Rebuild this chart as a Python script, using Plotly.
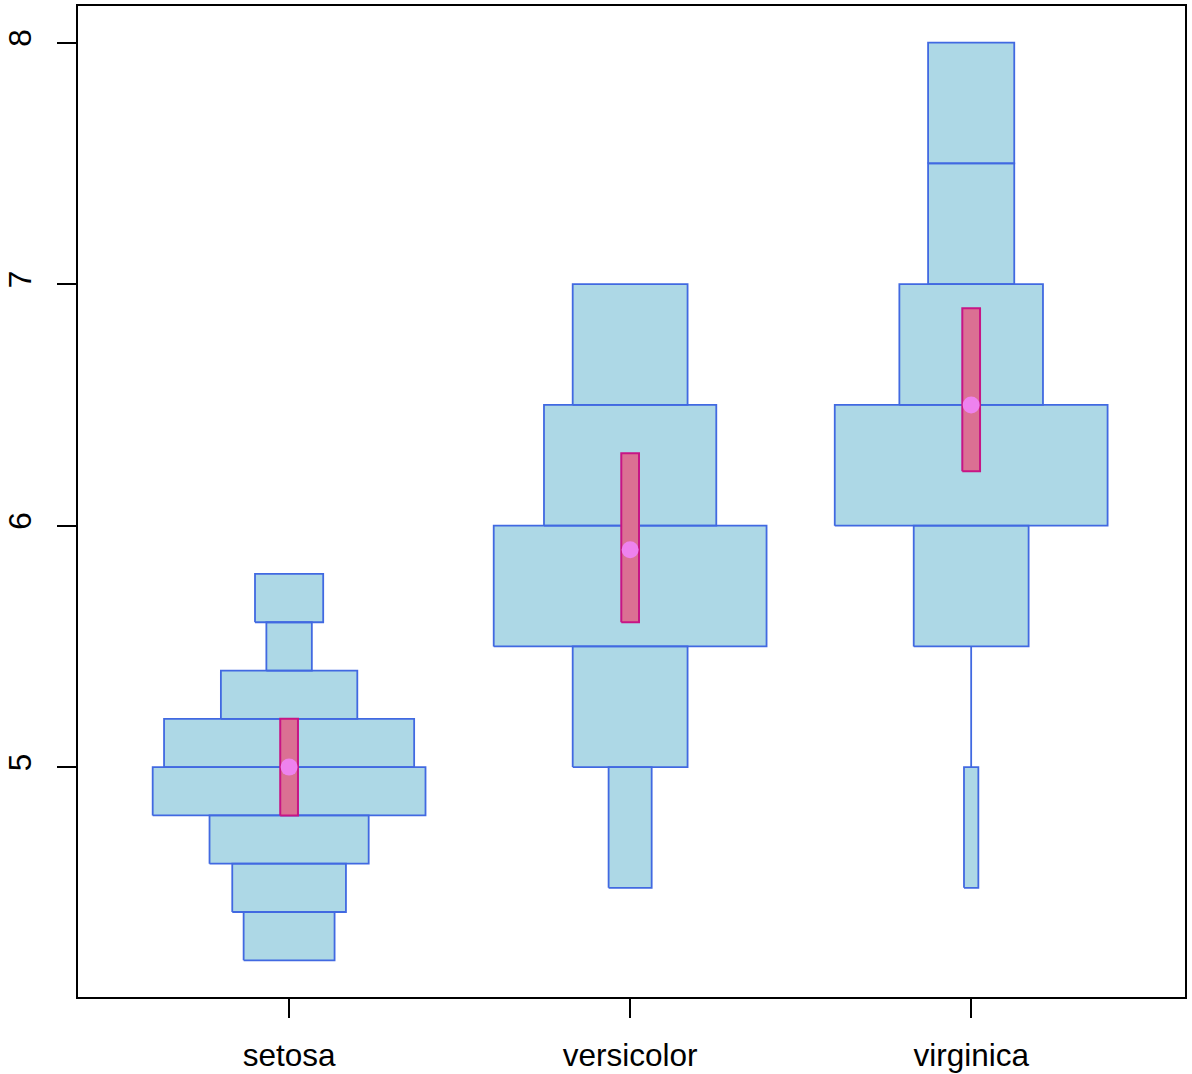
import plotly.graph_objects as go

# ---- data ----
groups = ["setosa", "versicolor", "virginica"]
positions = [1, 2, 3]

setosa_edges = [4.2, 4.4, 4.6, 4.8, 5.0, 5.2, 5.4, 5.6, 5.8]
setosa_counts = [4, 5, 7, 12, 11, 6, 2, 3]

versicolor_edges = [4.5, 5.0, 5.5, 6.0, 6.5, 7.0]
versicolor_counts = [3, 8, 19, 12, 8]

virginica_edges = [4.5, 5.0, 5.5, 6.0, 6.5, 7.0, 7.5, 8.0]
virginica_counts = [1, 0, 8, 19, 10, 6, 6]

q1 = [4.8, 5.6, 6.225]
medians = [5.0, 5.9, 6.5]
q3 = [5.2, 6.3, 6.9]

y_ticks = [5, 6, 7, 8]

# ---- style ----
max_half = 0.4
box_half = 0.026
bar_fill = "#ADD8E6"
bar_line = "#4169E1"
box_fill = "#DB7093"
box_line = "#C71585"
med_color = "#EE82EE"
font_family = "Liberation Sans, Arial, Helvetica, sans-serif"

edges_all = [setosa_edges, versicolor_edges, virginica_edges]
counts_all = [setosa_counts, versicolor_counts, virginica_counts]

fig = go.Figure()

for pos, edges, counts in zip(positions, edges_all, counts_all):
    m = max(counts)
    xs, ys = [], []
    for i, c in enumerate(counts):
        hw = max_half * c / m
        lo, hi = edges[i], edges[i + 1]
        xs += [pos - hw, pos + hw, pos + hw, pos - hw, pos - hw, None]
        ys += [lo, lo, hi, hi, lo, None]
    fig.add_trace(go.Scatter(
        x=xs, y=ys, mode="lines", fill="toself", fillcolor=bar_fill,
        line=dict(color=bar_line, width=1.8), hoverinfo="skip", showlegend=False))

for pos, a, b in zip(positions, q1, q3):
    fig.add_trace(go.Scatter(
        x=[pos - box_half, pos + box_half, pos + box_half, pos - box_half, pos - box_half],
        y=[a, a, b, b, a], mode="lines", fill="toself", fillcolor=box_fill,
        line=dict(color=box_line, width=2), hoverinfo="skip", showlegend=False))

fig.add_trace(go.Scatter(
    x=positions, y=medians, mode="markers",
    marker=dict(color=med_color, size=17, line=dict(width=0)),
    hoverinfo="skip", showlegend=False))

fig.update_layout(
    width=1192, height=1074,
    margin=dict(l=78, r=7, t=6, b=77),
    paper_bgcolor="white", plot_bgcolor="white",
    font=dict(family=font_family, size=31.5, color="black"),
    xaxis=dict(range=[0.381, 3.627], tickmode="array", tickvals=positions, ticktext=groups,
               showgrid=False, zeroline=False, showline=True, mirror=True,
               linecolor="black", linewidth=2, ticks="outside", ticklen=19,
               tickwidth=2, tickcolor="black", ticklabelstandoff=10, automargin=False),
    yaxis=dict(range=[4.048, 8.152], tickmode="array", tickvals=y_ticks,
               ticktext=[str(v) for v in y_ticks], tickangle=-90,
               showgrid=False, zeroline=False, showline=True, mirror=True,
               linecolor="black", linewidth=2, ticks="outside", ticklen=19,
               tickwidth=2, tickcolor="black", ticklabelstandoff=13, automargin=False),
)

fig.write_html("out.html", config={"displayModeBar": False},
               post_script="document.body.style.margin='0';document.body.style.overflow='hidden';")
